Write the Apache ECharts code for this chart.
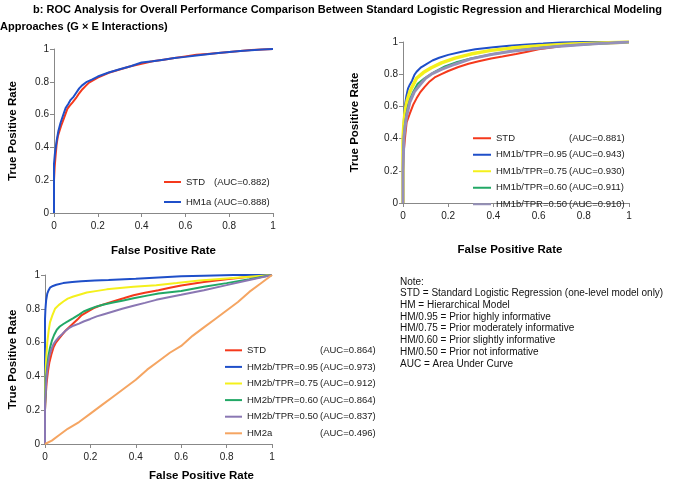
<!DOCTYPE html>
<html><head><meta charset="utf-8">
<script src="https://cdn.jsdelivr.net/npm/echarts@6/dist/echarts.min.js"></script>
<style>html,body{margin:0;padding:0;background:#fff;}#c{width:673px;height:483px;}</style>
</head><body><div id="c"></div>
<script>
// ---------- DATA ----------
const axisTicks = [0, 0.2, 0.4, 0.6, 0.8, 1];
const titleLine1 = 'b: ROC Analysis for Overall Performance Comparison Between Standard Logistic Regression and Hierarchical Modeling';
const titleLine2 = 'Approaches (G \u00d7 E Interactions)';
const xTitle = 'False Positive Rate';
const yTitle = 'True Positive Rate';
const noteLines = ['Note:', 'STD = Standard Logistic Regression (one-level model only)', 'HM = Hierarchical Model',
  'HM/0.95 = Prior highly informative', 'HM/0.75 = Prior moderately informative', 'HM/0.60 = Prior slightly informative',
  'HM/0.50 = Prior not informative', 'AUC = Area Under Curve'];

// Panel A (top-left)
const aNames = ['STD', 'HM1a'];
const aAUC = ['(AUC=0.882)', '(AUC=0.888)'];
const aSTD = [[0,0],[0,0.2],[0.003,0.28],[0.006,0.33],[0.012,0.42],[0.018,0.47],[0.025,0.5],[0.032,0.53],[0.046,0.58],[0.061,0.635],[0.072,0.655],[0.085,0.675],[0.1,0.7],[0.115,0.73],[0.13,0.755],[0.145,0.775],[0.16,0.795],[0.18,0.81],[0.2,0.825],[0.25,0.855],[0.3,0.875],[0.35,0.895],[0.4,0.91],[0.45,0.925],[0.5,0.935],[0.55,0.945],[0.6,0.955],[0.65,0.965],[0.7,0.97],[0.75,0.975],[0.8,0.982],[0.85,0.988],[0.9,0.994],[0.95,0.997],[1,1]];
const aHM1a = [[0,0],[0,0.3],[0.004,0.36],[0.008,0.4],[0.012,0.44],[0.02,0.5],[0.03,0.55],[0.04,0.59],[0.053,0.64],[0.065,0.665],[0.076,0.69],[0.09,0.71],[0.1,0.73],[0.115,0.76],[0.13,0.78],[0.15,0.8],[0.175,0.815],[0.2,0.832],[0.25,0.857],[0.3,0.877],[0.35,0.895],[0.4,0.918],[0.45,0.925],[0.5,0.935],[0.55,0.945],[0.6,0.952],[0.65,0.96],[0.7,0.968],[0.75,0.975],[0.8,0.982],[0.85,0.988],[0.9,0.993],[0.95,0.997],[1,1]];

// Panel B (top-right)
const bNames = ['STD', 'HM1b/TPR=0.95', 'HM1b/TPR=0.75', 'HM1b/TPR=0.60', 'HM1b/TPR=0.50'];
const bAUC = ['(AUC=0.881)', '(AUC=0.943)', '(AUC=0.930)', '(AUC=0.911)', '(AUC=0.910)'];
const bSTD = [[0,0],[0,0.2],[0.004,0.33],[0.01,0.42],[0.016,0.5],[0.03,0.555],[0.045,0.61],[0.06,0.65],[0.075,0.685],[0.095,0.72],[0.118,0.755],[0.14,0.78],[0.17,0.8],[0.2,0.82],[0.245,0.845],[0.29,0.865],[0.335,0.88],[0.39,0.898],[0.44,0.91],[0.5,0.925],[0.55,0.94],[0.6,0.955],[0.65,0.965],[0.7,0.975],[0.75,0.982],[0.8,0.988],[0.9,0.995],[1,1]];
const bT95 = [[0,0],[0,0.4],[0.004,0.52],[0.008,0.6],[0.015,0.665],[0.022,0.71],[0.03,0.735],[0.04,0.76],[0.05,0.795],[0.06,0.815],[0.08,0.843],[0.1,0.86],[0.13,0.885],[0.16,0.902],[0.2,0.92],[0.26,0.94],[0.32,0.955],[0.4,0.967],[0.47,0.977],[0.55,0.985],[0.62,0.99],[0.7,0.997],[0.8,1],[1,1]];
const bT75 = [[0,0],[0,0.4],[0.004,0.49],[0.008,0.55],[0.013,0.6],[0.02,0.645],[0.03,0.69],[0.04,0.72],[0.06,0.775],[0.09,0.81],[0.125,0.84],[0.17,0.87],[0.23,0.9],[0.3,0.925],[0.39,0.948],[0.48,0.962],[0.56,0.972],[0.65,0.98],[0.75,0.987],[0.85,0.993],[1,1]];
const bT60 = [[0,0],[0,0.3],[0.004,0.4],[0.008,0.48],[0.015,0.55],[0.022,0.6],[0.033,0.65],[0.045,0.69],[0.065,0.74],[0.095,0.775],[0.14,0.815],[0.185,0.848],[0.24,0.876],[0.3,0.898],[0.4,0.925],[0.5,0.947],[0.6,0.962],[0.7,0.975],[0.8,0.985],[0.9,0.993],[1,1]];
const bT50 = [[0,0],[0,0.2],[0.004,0.41],[0.01,0.48],[0.016,0.54],[0.03,0.625],[0.05,0.69],[0.08,0.742],[0.1,0.775],[0.125,0.8],[0.17,0.83],[0.23,0.862],[0.3,0.895],[0.39,0.922],[0.48,0.942],[0.58,0.958],[0.68,0.972],[0.8,0.985],[0.9,0.993],[1,1]];

// Panel C (bottom-left)
const cNames = ['STD', 'HM2b/TPR=0.95', 'HM2b/TPR=0.75', 'HM2b/TPR=0.60', 'HM2b/TPR=0.50', 'HM2a'];
const cAUC = ['(AUC=0.864)', '(AUC=0.973)', '(AUC=0.912)', '(AUC=0.864)', '(AUC=0.837)', '(AUC=0.496)'];
const cSTD = [[0,0],[0,0.2],[0.004,0.3],[0.007,0.36],[0.013,0.43],[0.019,0.48],[0.028,0.53],[0.037,0.57],[0.048,0.6],[0.06,0.62],[0.075,0.645],[0.088,0.667],[0.105,0.69],[0.125,0.715],[0.145,0.74],[0.162,0.763],[0.19,0.785],[0.213,0.803],[0.24,0.818],[0.272,0.832],[0.31,0.848],[0.346,0.862],[0.39,0.88],[0.44,0.895],[0.5,0.91],[0.55,0.925],[0.6,0.938],[0.7,0.958],[0.8,0.975],[0.9,0.99],[1,1]];
const cT95 = [[0,0],[0,0.74],[0.002,0.8],[0.005,0.85],[0.01,0.89],[0.016,0.91],[0.022,0.925],[0.035,0.935],[0.05,0.942],[0.08,0.952],[0.12,0.958],[0.16,0.963],[0.22,0.967],[0.28,0.97],[0.35,0.975],[0.4,0.978],[0.5,0.985],[0.6,0.992],[0.7,0.996],[0.83,1],[1,1]];
const cT75 = [[0,0],[0,0.28],[0.003,0.44],[0.006,0.52],[0.01,0.6],[0.016,0.67],[0.022,0.72],[0.032,0.76],[0.044,0.8],[0.06,0.822],[0.081,0.843],[0.1,0.86],[0.125,0.873],[0.155,0.885],[0.184,0.896],[0.23,0.906],[0.272,0.915],[0.33,0.923],[0.39,0.93],[0.49,0.94],[0.58,0.953],[0.68,0.968],[0.8,0.98],[0.9,0.99],[1,1]];
const cT60 = [[0,0],[0,0.2],[0.004,0.38],[0.01,0.46],[0.015,0.52],[0.022,0.57],[0.03,0.61],[0.04,0.645],[0.052,0.676],[0.065,0.695],[0.081,0.71],[0.1,0.725],[0.125,0.745],[0.15,0.766],[0.17,0.784],[0.2,0.8],[0.228,0.814],[0.26,0.825],[0.3,0.837],[0.34,0.848],[0.39,0.862],[0.45,0.878],[0.5,0.89],[0.6,0.905],[0.7,0.93],[0.8,0.952],[0.9,0.975],[1,1]];
const cT50 = [[0,0],[0,0.24],[0.004,0.33],[0.007,0.4],[0.013,0.47],[0.019,0.52],[0.028,0.56],[0.037,0.59],[0.048,0.612],[0.059,0.63],[0.075,0.65],[0.088,0.667],[0.105,0.685],[0.125,0.7],[0.15,0.712],[0.17,0.725],[0.2,0.74],[0.228,0.755],[0.26,0.768],[0.3,0.784],[0.34,0.8],[0.39,0.818],[0.44,0.835],[0.49,0.853],[0.55,0.87],[0.6,0.883],[0.7,0.91],[0.8,0.94],[0.9,0.97],[1,1]];
const cHM2a = [[0,0],[0.03,0.02],[0.06,0.05],[0.1,0.09],[0.15,0.13],[0.2,0.18],[0.25,0.23],[0.3,0.28],[0.35,0.33],[0.4,0.38],[0.45,0.44],[0.5,0.49],[0.55,0.54],[0.6,0.58],[0.65,0.64],[0.7,0.69],[0.75,0.74],[0.8,0.79],[0.85,0.84],[0.9,0.9],[0.95,0.95],[1,1]];

// ---------- STYLE ----------
const FONT = "'Liberation Sans', Arial, sans-serif";
const RED = '#f5391c', BLUE = '#1f4fc9', YEL = '#f4f01c', GRN = '#22a866', GRY = '#9590b8', PUR = '#8a77b3', ORG = '#f5a562';
const aColors = [RED, BLUE];
const bColors = [RED, BLUE, YEL, GRN, GRY];
const cColors = [RED, BLUE, YEL, GRN, PUR, ORG];
const bWidths = [2, 2, 3.5, 2, 3];

const grids = [
  {left: 54, top: 49, width: 219, height: 164},
  {left: 403, top: 42, width: 226, height: 161},
  {left: 45, top: 275, width: 227, height: 171}
];
const xNameGap = [32, 41, 26];
const xNamePad = [[0,0,0,0],[0,0,0,-12],[0,0,0,86]];
const yNameGap = [35, 42, 26];

function xAx(i) {
  return {gridIndex: i, type: 'value', min: 0, max: 1, interval: 0.2,
    name: xTitle, nameLocation: 'middle', nameGap: xNameGap[i],
    nameTextStyle: {fontFamily: FONT, fontWeight: 'bold', fontSize: 11.5, color: '#000', padding: xNamePad[i]},
    axisLine: {show: true, lineStyle: {color: '#888', width: 1}},
    axisTick: {show: true, length: 4, lineStyle: {color: '#888'}},
    splitLine: {show: false},
    axisLabel: {fontFamily: FONT, fontSize: 10, color: '#222', margin: 8}};
}
function yAx(i) {
  return {gridIndex: i, type: 'value', min: 0, max: 1, interval: 0.2,
    name: yTitle, nameLocation: 'middle', nameGap: yNameGap[i], nameRotate: 90,
    nameTextStyle: {fontFamily: FONT, fontWeight: 'bold', fontSize: 11.5, color: '#000'},
    axisLine: {show: true, lineStyle: {color: '#888', width: 1}},
    axisTick: {show: true, length: 4, lineStyle: {color: '#888'}},
    splitLine: {show: false},
    axisLabel: {fontFamily: FONT, fontSize: 10, color: '#222', margin: 5}};
}
function mk(names, aucs, datas, colors, gi, widths) {
  return names.map((n, k) => ({
    name: n + '|' + aucs[k], type: 'line', xAxisIndex: gi, yAxisIndex: gi,
    data: datas[k], showSymbol: false, symbol: 'none', smooth: false, animation: false,
    lineStyle: {color: colors[k], width: widths ? widths[k] : 2},
    itemStyle: {color: colors[k]}, z: 2 + k
  }));
}
function legend(names, aucs, left, top, lh, nameW, iw) {
  return {orient: 'vertical', left: left, top: top, padding: 0, itemGap: 0,
    itemWidth: iw, itemHeight: 2, icon: 'rect', selectedMode: false,
    data: names.map((n, k) => n + '|' + aucs[k]),
    formatter: s => { const p = s.split('|'); return '{n|' + p[0] + '}{a|' + p[1] + '}'; },
    textStyle: {fontFamily: FONT, fontSize: 9.5, color: '#222', lineHeight: lh,
      rich: {n: {width: nameW, fontFamily: FONT, fontSize: 9.5, color: '#222', lineHeight: lh},
             a: {fontFamily: FONT, fontSize: 9.5, color: '#222', lineHeight: lh}}}};
}

const series = [].concat(
  mk(aNames, aAUC, [aSTD, aHM1a], aColors, 0),
  mk(bNames, bAUC, [bSTD, bT95, bT75, bT60, bT50], bColors, 1, bWidths),
  mk(cNames, cAUC, [cSTD, cT95, cT75, cT60, cT50, cHM2a], cColors, 2)
);

const chart = echarts.init(document.getElementById('c'), null, {renderer: 'canvas'});
chart.setOption({
  animation: false,
  backgroundColor: '#fff',
  title: [
    {text: titleLine1, left: 33, top: 4, padding: 0, textStyle: {fontFamily: FONT, fontWeight: 'bold', fontSize: 11, color: '#000'}},
    {text: titleLine2, left: 0, top: 21, padding: 0, textStyle: {fontFamily: FONT, fontWeight: 'bold', fontSize: 11, color: '#000'}},
    {text: noteLines.join('\n'), left: 400, top: 276, padding: 0,
      textStyle: {fontFamily: FONT, fontWeight: 'normal', fontSize: 10, lineHeight: 11.7, color: '#111'}}
  ],
  grid: grids,
  xAxis: [xAx(0), xAx(1), xAx(2)],
  yAxis: [yAx(0), yAx(1), yAx(2)],
  legend: [
    legend(aNames, aAUC, 164, 172, 20, 28, 17),
    legend(bNames, bAUC, 473, 130, 16.5, 73, 18),
    legend(cNames, cAUC, 225, 342, 16.6, 73, 17)
  ],
  series: series
});
</script></body></html>
